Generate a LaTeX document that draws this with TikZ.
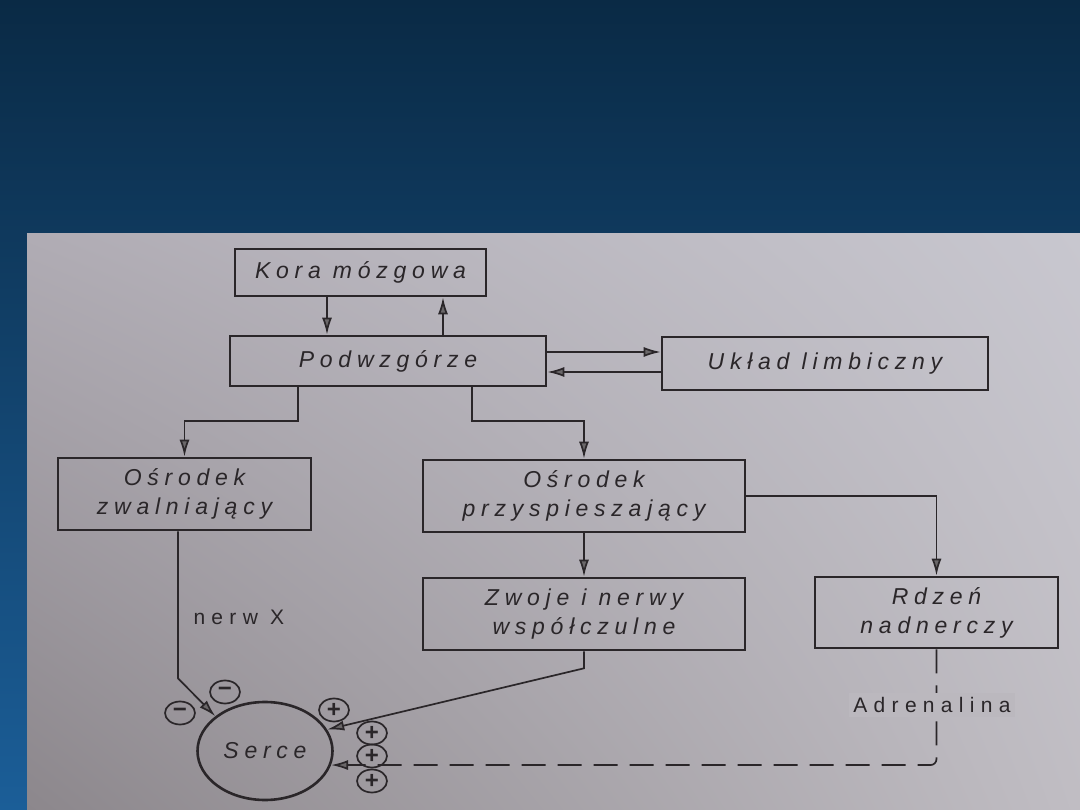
\documentclass[tikz,border=0pt]{standalone}
\usepackage{fontspec}
\usepackage{xcolor}
\usetikzlibrary{arrows.meta,shapes.geometric,shadings}
\setmainfont{Liberation Sans}
\newfontfamily\labelfont[LetterSpace=25]{Liberation Sans}
\newfontfamily\notefont[LetterSpace=30]{Liberation Sans}
\definecolor{bgtop}{HTML}{0A2A45}
\definecolor{bgbot}{HTML}{1B5E98}
\definecolor{ink}{HTML}{2A2629}
\definecolor{paperul}{HTML}{B0ACB4}
\definecolor{paperur}{HTML}{C8C7CF}
\definecolor{paperll}{HTML}{8C878C}
\definecolor{paperlr}{HTML}{C0BDC3}
\definecolor{papermid}{HTML}{BBB8BE}

\tikzset{
  block/.style={draw=ink, line width=2.6pt, inner sep=2pt, align=center, text=ink, font=\labelfont\itshape\fontsize{23}{29}\selectfont},
  link/.style={draw=ink, line width=1.7pt, -{Latex[length=17pt,width=10pt,fill=ink!70]}},
  sign/.style={ellipse, draw=ink, line width=1.7pt, minimum width=30pt, minimum height=23pt, inner sep=0pt, text=ink, font=\fontsize{24}{24}\selectfont\bfseries},
  note/.style={text=ink, font=\notefont\fontsize{21}{24}\selectfont}
}

\begin{document}
\begin{tikzpicture}[x=1pt, y=-1pt]
  \useasboundingbox (0,0) rectangle (1080,810);
  \shade[top color=bgtop, bottom color=bgbot] (0,0) rectangle (1080,810);
  \shade[upper left=paperul, upper right=paperur, lower left=paperll, lower right=paperlr] (27,234) rectangle (1080,810);

  \node[block, minimum width=251pt, minimum height=47pt] (kora) at (360.5,272.5) {Kora mózgowa};
  \node[block, minimum width=316pt, minimum height=50pt] (podw) at (388,361) {Podwzgórze};
  \node[block, minimum width=326pt, minimum height=53pt] (limb) at (825,363.5) {Układ limbiczny};
  \node[block, minimum width=253pt, minimum height=72pt] (zwaln) at (184.5,494) {Ośrodek\\zwalniający};
  \node[block, minimum width=322pt, minimum height=72pt] (przysp) at (584,496) {Ośrodek\\przyspieszający};
  \node[block, minimum width=322pt, minimum height=72pt] (zwoje) at (584,614) {Zwoje i nerwy\\współczulne};
  \node[block, minimum width=243pt, minimum height=71pt] (rdzen) at (936.5,612.5) {Rdzeń\\nadnerczy};
  \node[block, ellipse, minimum width=135pt, minimum height=98pt, inner sep=0pt] (serce) at (265,751) {Serce};

  \draw[link] ([xshift=-61pt]podw.north |- kora.south) -- ([xshift=-61pt]podw.north);
  \draw[link] ([xshift=55pt]podw.north) -- ([xshift=55pt]podw.north |- kora.south);
  \draw[link] ([yshift=9pt]podw.east) -- ([yshift=9pt]podw.east -| limb.west);
  \draw[link] ([yshift=-11pt]podw.east -| limb.west) -- ([yshift=-11pt]podw.east);
  \draw[link] ([xshift=-90pt]podw.south) -- ++(0,34) -| (zwaln.north);
  \draw[link] ([xshift=84pt]podw.south) -- ++(0,34) -| (przysp.north);
  \draw[link] (przysp.south) -- (zwoje.north);
  \draw[link] (przysp.east) -| (rdzen.north);
  \draw[link] ([xshift=-6.5pt]zwaln.south) -- ++(0,147) -- (serce.145);
  \draw[link] (zwoje.south) -- ++(0,17) -- (serce.19);
  \draw[link, dash pattern=on 24pt off 12pt, rounded corners=6pt] (rdzen.south) |- (serce.-12);

  \node[note, anchor=west] (nerw) at (190,617) {nerw X};
  \node[note, fill=papermid, inner sep=4pt] (adren) at (932,705) {Adrenalina};

  \node[sign] (m1) at (180,713) {−};
  \node[sign] (m2) at (225,692) {−};
  \node[sign] (p1) at (334,710) {+};
  \node[sign] (p2) at (372,733) {+};
  \node[sign] (p3) at (372,756) {+};
  \node[sign] (p4) at (372,781) {+};
\end{tikzpicture}
\end{document}
